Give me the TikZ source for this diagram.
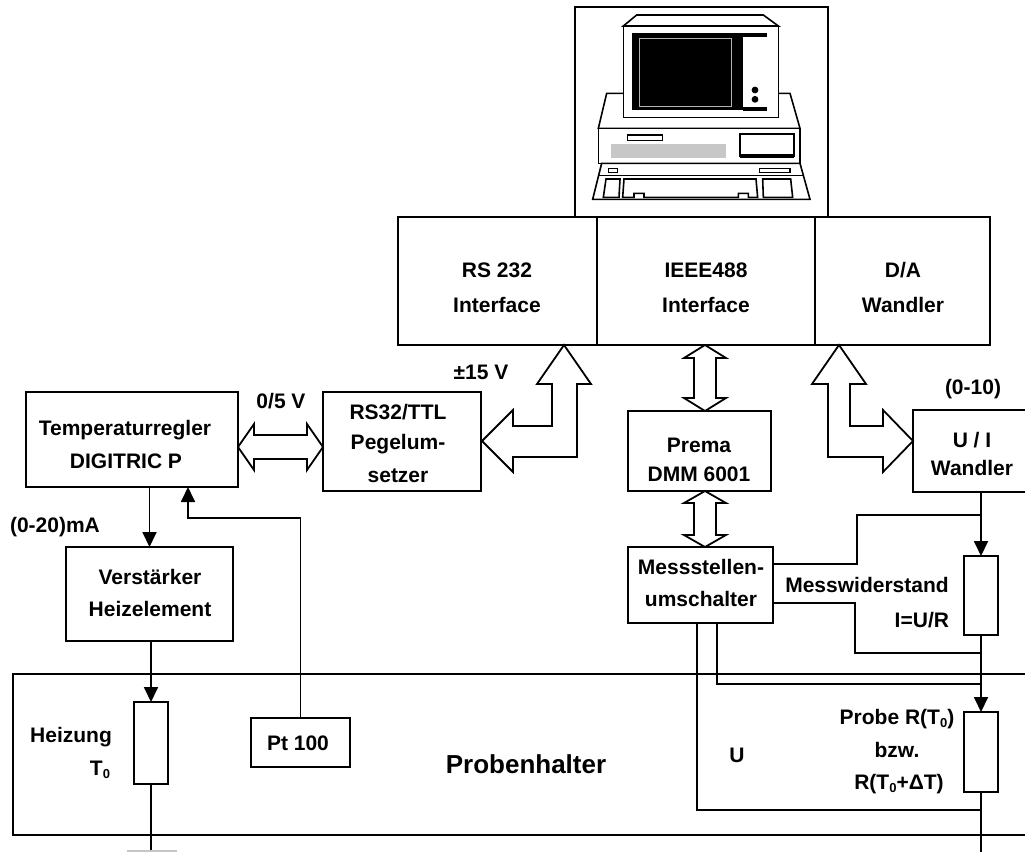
\documentclass[tikz,border=0pt]{standalone}
\usepackage{fontspec}
\setmainfont{Liberation Sans}
\usetikzlibrary{arrows.meta}
% small lowered zero used as index
\newcommand\subnull{\raisebox{-3pt}{\fontsize{13}{13}\selectfont 0}}

\begin{document}
\begin{tikzpicture}[x=1pt,y=-1pt,
  every node/.style={inner sep=0pt, outer sep=0pt},
  box/.style 2 args={draw, line width=2pt, rectangle, minimum width=#1, minimum height=#2},
  txt/.style={font=\bfseries\fontsize{21}{25}\selectfont, text height=15pt, text depth=0pt},
  bigtxt/.style={font=\bfseries\fontsize{26}{30}\selectfont, text height=18.6pt, text depth=0pt},
  wire/.style={line width=1.8pt},
  arr/.style={wire, -{Triangle[length=15pt,width=14pt]}},
  hollow/.style={draw, line width=1.8pt, fill=white, line join=miter},
  cl/.style={line width=1.6pt, line join=miter}]

\clip (0,0) rectangle (1025,852);

% ---------- sample holder ----------
\node[box={1027}{161}] (halter) at (526.5,754.5) {};
\node[bigtxt] (halterlbl) at (526,764) {Probenhalter};

% ---------- computer ----------
\node[box={253}{210}] (comp) at (701.5,112) {};
\begin{scope}[shift={(570,0)}, x=0.33333pt, y=-0.33333pt]
  % system unit
  \draw[cl, fill=white] (110,280) -- (660,280) -- (690,385) -- (85,385) -- cycle;
  \draw[cl, fill=white] (85,385) rectangle (690,490);
  \draw[cl] (172,405) rectangle (278,422);
  \fill[black!22] (122,432) rectangle (468,475);
  \draw[cl] (510,402) rectangle (672,470);
  \fill (510,462) rectangle (672,475);
  % keyboard
  \draw[cl, fill=white] (95,490) -- (690,490) -- (720,598) -- (68,598) -- cycle;
  \draw[cl] (86,527) -- (700,527);
  \draw[cl] (115,505) rectangle (143,518);
  \draw[cl] (568,505) rectangle (660,518);
  \draw[cl] (108,537) -- (150,537) -- (147,592) -- (100,592) -- cycle;
  \draw[cl] (162,537) -- (558,537) -- (563,592) -- (535,592) -- (535,580) -- (505,580)
            -- (505,592) -- (222,592) -- (222,580) -- (192,580) -- (192,592) -- (158,592) -- cycle;
  \draw[cl] (578,537) -- (662,537) -- (668,592) -- (580,592) -- cycle;
  % monitor
  \draw[cl, fill=white] (200,45) -- (580,45) -- (625,78) -- (160,78) -- cycle;
  \draw[cl, fill=white] (160,78) rectangle (625,352);
  \fill (185,100) rectangle (518,330);
  \fill (518,100) rectangle (590,112);
  \fill (518,320) rectangle (590,332);
  \draw[gray!60, line width=0.8pt] (208,115) rectangle (485,320);
  \fill (555,270) circle[radius=3.4pt];
  \fill (555,298) circle[radius=3.4pt];
\end{scope}

% ---------- interface cards ----------
\node[box={199}{128}] (rs) at (497.5,281) {};
\node[box={218}{128}] (ieee) at (706,281) {};
\node[box={175}{128}] (da) at (902.5,281) {};
\node[txt] (rsA) at (497,270) {RS 232};
\node[txt] (rsB) at (497,305) {Interface};
\node[txt] (ieeeA) at (706,270) {IEEE488};
\node[txt] (ieeeB) at (706,305) {Interface};
\node[txt] (daA) at (903,270) {D/A};
\node[txt] (daB) at (903,305) {Wandler};

% ---------- blocks ----------
\node[box={212}{95}] (temp) at (132,439.5) {};
\node[txt] (tempA) at (125,428) {Temperaturregler};
\node[txt] (tempB) at (126,461) {DIGITRIC P};

\node[box={158}{99}] (ttl) at (402,441.5) {};
\node[txt] (ttlA) at (398,412) {RS32/TTL};
\node[txt] (ttlB) at (398,442) {Pegelum-};
\node[txt] (ttlC) at (398,475) {setzer};

\node[box={143}{80}] (prema) at (699.5,451) {};
\node[txt] (premaA) at (699,445) {Prema};
\node[txt] (premaB) at (699,474) {DMM 6001};

\node[box={145}{76}] (mess) at (700.5,585) {};
\node[txt] (messA) at (701,567) {Messstellen-};
\node[txt] (messB) at (701,599) {umschalter};

\node[box={118}{82}] (ui) at (972,451) {};
\node[txt] (uiA) at (972,440) {U / I};
\node[txt] (uiB) at (972,468) {Wandler};
\node[txt] (uiC) at (973,387) {(0-10)};

\node[box={167}{94}] (verst) at (149.5,594) {};
\node[txt] (verstA) at (150,577) {Verstärker};
\node[txt] (verstB) at (150,609) {Heizelement};

\node[box={34}{82}] (hz) at (151,743) {};
\node[txt] (hzA) at (71,735) {Heizung};
\node[txt] (hzB) at (100,768) {T\subnull};

\node[box={99}{49}] (pt) at (300.5,742.5) {};
\node[txt] (ptA) at (298,743) {Pt 100};

\node[box={34}{79}] (mw) at (981,595.5) {};
\node[txt] (mwA) at (867,585) {Messwiderstand};
\node[txt, anchor=east] (mwB) at (949,620) {I=U/R};

\node[box={34}{80}] (probe) at (981,752) {};
\node[txt] (probeA) at (897,717) {Probe R(T\subnull)};
\node[txt] (probeB) at (897,750) {bzw.};
\node[txt] (probeC) at (899,782) {R(T\subnull+ΔT)};
\node[txt] (uLbl) at (737,755) {U};

% ---------- signal labels ----------
\node[txt] (pm15) at (481,372) {±15 V};
\node[txt] (v05) at (281,401) {0/5 V};
\node[txt] (ma) at (55,525) {(0-20)mA};

% ---------- hollow bus arrows ----------
\draw[hollow] (238,447) -- (254,424) -- (254,435) -- (307,435) -- (307,424) -- (323,447)
  -- (307,470) -- (307,459) -- (254,459) -- (254,470) -- cycle;
\draw[hollow] (564,345) -- (591,384) -- (577,384) -- (577,457) -- (513,457) -- (513,472)
  -- (482,441) -- (513,410) -- (513,426) -- (552,426) -- (552,384) -- (537,384) -- cycle;
\draw[hollow] (705,345) -- (726,358) -- (716,358) -- (716,398) -- (726,398) -- (705,411)
  -- (684,398) -- (694,398) -- (694,358) -- (684,358) -- cycle;
\draw[hollow] (705,491) -- (726,503) -- (716,503) -- (716,535) -- (726,535) -- (705,547)
  -- (684,535) -- (694,535) -- (694,503) -- (684,503) -- cycle;
\draw[hollow] (839,345) -- (866,384) -- (850,384) -- (850,426) -- (883,426) -- (883,410)
  -- (913,441) -- (883,472) -- (883,457) -- (828,457) -- (828,384) -- (812,384) -- cycle;

% ---------- wiring ----------
\coordinate (hzend) at (151,852);
\coordinate (ptbend) at (188,518);
\coordinate (j1) at (981,515);

\draw[arr] (verst.north |- temp.south) -- (verst.north);
\draw[arr] (hz.north |- verst.south) -- (hz.north);
\draw[wire] (hz.south) -- (hzend);
\draw[gray!45, line width=1.5pt] (127,851) -- (177,851);
\draw[arr] (pt.north) |- (ptbend) -- (ptbend |- temp.south);

\draw[arr] (mw.north |- ui.south) -- (mw.north);
\draw[wire] (mess.east |- 0,564) -| (857,515) -- (j1);
\draw[wire] (mess.east |- 0,603) -| (855,653) -- (mw.south |- 0,653);
\draw[arr] (mw.south) -- (probe.north);
\draw[wire] (mess.south -| 717,0) |- (probe.north |- 0,684);
\draw[wire] (mess.south -| 697,0) |- (probe.south |- 0,810);
\draw[wire] (probe.south) -- (probe.south |- 0,852);

\end{tikzpicture}
\end{document}
